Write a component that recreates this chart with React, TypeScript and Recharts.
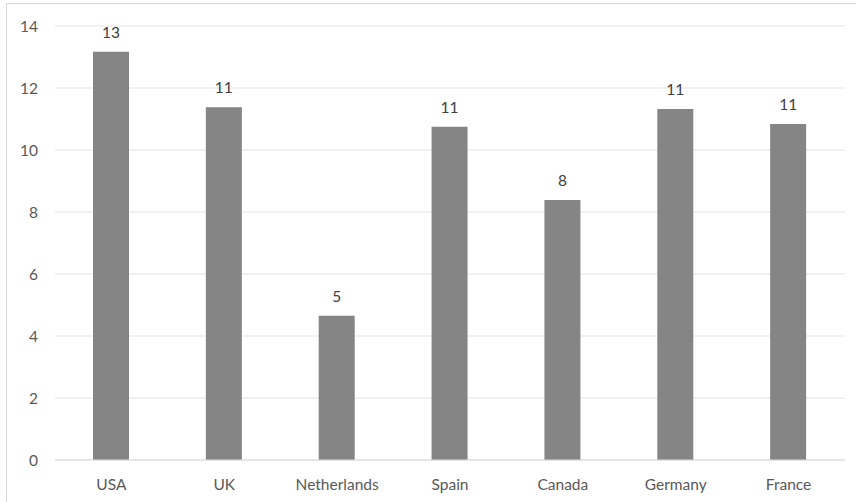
import React from "react";
import { BarChart, Bar, XAxis, YAxis, CartesianGrid, LabelList } from "recharts";

const countries = ["USA", "UK", "Netherlands", "Spain", "Canada", "Germany", "France"];
const values = [13.17, 11.38, 4.65, 10.75, 8.39, 11.32, 10.84];
const yTicks = [0, 2, 4, 6, 8, 10, 12, 14];

const data = countries.map((name, i) => ({ name, value: values[i] }));

const FONT = "Lato, 'Open Sans', sans-serif";

export default function App() {
  return (
    <div
      style={{
        position: "absolute",
        left: 0,
        top: 0,
        width: 856,
        height: 502,
        background: "#fff",
        fontFamily: FONT,
      }}
    >
      <div
        style={{
          position: "absolute",
          left: 6,
          top: 3,
          right: 0,
          bottom: 0,
          borderTop: "1px solid #d9d9d9",
          borderLeft: "1px solid #d9d9d9",
        }}
      />
      <BarChart
        width={856}
        height={502}
        data={data}
        margin={{ top: 26, right: 11, left: 0, bottom: 0 }}
        style={{ position: "absolute", left: 0, top: 0 }}
      >
        <CartesianGrid vertical={false} stroke="#e3e3e3" strokeWidth={1} />
        <XAxis
          dataKey="name"
          height={42}
          tickLine={false}
          tickSize={0}
          tickMargin={19}
          axisLine={{ stroke: "#d9d9d9" }}
          tick={{ fill: "#595959", fontSize: 15.5, fontFamily: FONT }}
        />
        <YAxis
          width={55}
          domain={[0, 14]}
          ticks={yTicks}
          axisLine={false}
          tickLine={false}
          tickSize={0}
          tickMargin={17}
          tick={{ fill: "#595959", fontSize: 15.5, fontFamily: FONT }}
        />
        <Bar dataKey="value" fill="#858585" barSize={36} isAnimationActive={false}>
          <LabelList
            dataKey="value"
            position="top"
            offset={14}
            formatter={(v: number) => Math.round(v)}
            style={{ fill: "#404040", fontSize: 15.5, fontFamily: FONT }}
          />
        </Bar>
      </BarChart>
    </div>
  );
}
